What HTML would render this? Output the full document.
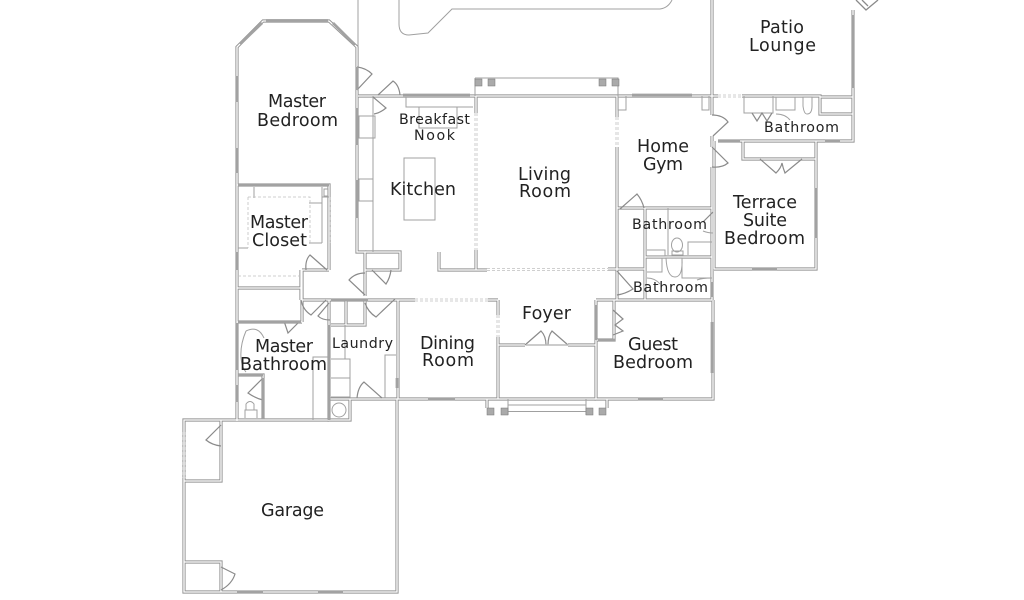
<!DOCTYPE html>
<html><head><meta charset="utf-8"><style>
html,body{margin:0;padding:0;background:#fff}
svg{display:block}
text{font-family:"DejaVu Sans","Liberation Sans",sans-serif;fill:#222;font-size:17.5px}
.s{font-size:14.2px}
</style></head><body>
<svg width="1024" height="600" viewBox="0 0 1024 600" fill="none" xmlns="http://www.w3.org/2000/svg">
<defs>
<g id="w">
<path d="M237 421V47L263 21H329L357 47V252H365V270"/>
<path d="M365 252H400V270H365"/>
<path d="M358 96H712H718M742 96H820V114H853M820 97H853"/>
<path d="M853 10V141H718"/>
<path d="M712 0V115M712 136V147M712 167V208M712 208V300"/>
<path d="M617 96V117M617 147V300"/>
<path d="M617 208H712M617 269H645"/>
<path d="M645 208V300M645 257H712M622 300H712"/>
<path d="M816 141V269H714M714 141V269"/>
<path d="M743 141V159H816"/>
<path d="M596 300V399H713V300M596 300H622M614 300V340H597"/>
<path d="M498 300V315M498 337V399M398 300V399M498 345H525M568 345H596"/>
<path d="M330 399H596"/>
<path d="M397 399V592H184V420H329M184 481H221V420M184 562H221V592"/>
<path d="M329 270V185H237M302 270V322M237 322H302M237 288H302M302 270H329"/>
<path d="M329 300V420H350V399"/>
<path d="M301 270V300M301 300H415M488 300H498"/>
<path d="M331 325H365V300"/>
<path d="M346 300V325"/>
<path d="M365 270V296"/>
<path d="M439 252V270H487M476 96V113M476 250V270"/>
<path d="M238 375H263V419"/>
<path d="M608 269H617"/>
<path d="M607 399V408M487 399V408"/>
</g>
</defs>
<use href="#w" stroke="#929292" stroke-width="3.2"/>
<use href="#w" stroke="#fff" stroke-width="1.3"/>
<g stroke="#a0a0a0" stroke-width="1">
<path d="M358 0V47M399 0V24Q399 35 409 35L428 33L452 9H660Q668 8 672 0"/>
<path d="M406 97V107H473M419 107V128H457V107"/>
<rect x="404" y="158" width="31" height="62"/>
<rect x="359" y="116" width="16" height="22"/><rect x="359" y="179" width="14" height="22"/>
<path d="M373 96V252"/>
<path d="M254 187V198M309 203H322M309 243H322M238 248H248"/>
<path d="M322 187V243M322 197H329M324 189H328V196H324Z"/>
<path d="M475 78H618V96M475 78V96"/>
<path d="M508 405H586M508 411.5H586M508 399V415M586 399V415"/>
<path d="M618 96V110H626V96M702 96V110H709V96"/>
<path d="M744 96V113H773V96M776 97V110H795V97"/>
<path d="M668 208V255M647 250H665V256H647M688 255V242H712"/>
<path d="M662 258V272H647M682 258V278H712"/>
<path d="M345 325V359M331 359H350V397H331M331 378H350"/>
<path d="M385 398V355H396"/>
<path d="M313 420V357H328"/>
<path d="M330 399V420"/>
<circle cx="339" cy="410" r="7"/>
<path d="M245 418V410H257V418M246 410V404Q250 399 254 404V410"/>
<path d="M246 331Q240 345 241 358Q242 368 246 372M246 331Q258 325 264 338"/>
<ellipse cx="677" cy="245" rx="5.5" ry="7"/><path d="M672 251H683V255H672Z"/>
<path d="M666 258H682Q683 277 675 277Q667 277 666 258Z"/>
<path d="M803 97V106Q804 114 807 114Q812 114 812 106V97Z"/>
<path d="M776 114Q785 114 790 120M697 280Q702 278 712 278M647 278Q655 278 660 284M703 231Q708 233 713 233"/>
</g>
<g stroke="#8a8a8a" stroke-width="1.2">
<path d="M357 90L372 74Q366 68 357 67"/>
<path d="M378 95L393 81Q399 85 400 95"/>
<path d="M373 97L386 108Q380 113 374 114"/>
<path d="M327 270L310 255Q305 260 306 270"/>
<path d="M365 295L349 280Q355 273 365 273"/>
<path d="M372 270L386 284Q390 278 391 270"/>
<path d="M326 300L311 315Q303 310 301 300"/>
<path d="M329 303L318 316Q322 320 330 320"/>
<path d="M395 299L376 317Q368 312 365 303"/>
<path d="M382 398L364 382Q358 387 357 398"/>
<path d="M263 378L248 393Q255 398 263 400"/>
<path d="M221 425L206 440Q212 445 221 446"/>
<path d="M221 567L235 574Q232 584 221 590"/>
<path d="M284 321L288 333L299 322"/>
<path d="M713 136L728 122Q723 115 712 115"/>
<path d="M712 147L728 163Q722 168 712 167"/>
<path d="M620 209L637 194Q642 200 644 208"/>
<path d="M713 212L703 222"/>
<path d="M617 271L633 289Q625 294 617 295"/>
<path d="M613 310L623 319L615 325L623 331L613 335"/>
<path d="M760 159L776 173Q781 168 782 163Q783 168 785 173L802 159"/>
<path d="M525 345L541 331Q546 336 546 345M568 345L552 331Q548 336 548 345"/>
<path d="M752 113L757 121L762 113L767 121L772 113"/>
</g>
<g stroke="#a2a2a2" stroke-width="2.8">
<path d="M237 76V102M237 148V173M237 252V270"/>
<path d="M240 44L262 23M266 20.5H328M333 23L355 45"/>
<path d="M357 108V145M357 180V218M357 67V90"/>
<path d="M403 95H470M632 95H692"/>
<path d="M853 15V88"/>
<path d="M816 188V238"/>
<path d="M752 269H777"/>
<path d="M638 399H663"/>
<path d="M712 322V373M712 282V297"/>
<path d="M596 305V340"/>
<path d="M598 340H615"/>
<path d="M329 325V420"/>
<path d="M237 323V370M237 385V402"/>
<path d="M238 322H301"/>
<path d="M238 375H263M263 378V419"/>
<path d="M331 300H368"/>
<path d="M238 185H329"/>
<path d="M428 399H455M237 592H263M318 592H343M397 378V388"/>
<path d="M718 141H740M825 141H840"/>
<path d="M526 345H568" stroke="#bbb" stroke-width="1.6"/>
</g>
<g stroke="#c0c0c0" stroke-width=".8" stroke-dasharray="3 2">
<path d="M475 113V250M477 113V250"/>
<path d="M415 299H488M415 301H488"/>
<path d="M497 315V337M499 315V337"/>
<path d="M487 268.5H608M487 270.5H608"/>
<path d="M183 432V478M185 432V478"/>
<path d="M616 117V147M618 117V147"/>
<path d="M718 95H742M718 97H742"/>
<path d="M248 197H310V243M248 197V248M238 276H300M330 197V243"/>
</g>
<g fill="#aaa" stroke="#777" stroke-width=".5">
<rect x="475" y="79" width="7" height="7"/><rect x="488" y="79" width="7" height="7"/>
<rect x="599" y="79" width="7" height="7"/><rect x="612" y="79" width="7" height="7"/>
<rect x="487" y="408" width="7" height="7"/><rect x="501" y="408" width="7" height="7"/>
<rect x="586" y="408" width="7" height="7"/><rect x="599" y="408" width="7" height="7"/>
</g>
<path d="M856 0L866 10L878 0M862 0L868 6" stroke="#8a8a8a" stroke-width="1.3"/>
<text x="268" y="107" textLength="58">Master</text>
<text x="257" y="126" textLength="81">Bedroom</text>
<text class="s" x="399" y="124" textLength="71">Breakfast</text>
<text class="s" x="414" y="140" textLength="41">Nook</text>
<text x="390" y="195" textLength="66">Kitchen</text>
<text x="250" y="228" textLength="58">Master</text>
<text x="252" y="246" textLength="55">Closet</text>
<text x="518" y="180" textLength="53">Living</text>
<text x="519" y="197" textLength="52">Room</text>
<text x="637" y="152" textLength="52">Home</text>
<text x="643" y="170" textLength="40">Gym</text>
<text x="760" y="33" textLength="44">Patio</text>
<text x="749" y="51" textLength="67">Lounge</text>
<text class="s" x="764" y="132" textLength="75">Bathroom</text>
<text class="s" x="632" y="229" textLength="75">Bathroom</text>
<text class="s" x="633" y="292" textLength="75">Bathroom</text>
<text x="733" y="208" textLength="64">Terrace</text>
<text x="743" y="226" textLength="44">Suite</text>
<text x="724" y="244" textLength="81">Bedroom</text>
<text x="522" y="319" textLength="49">Foyer</text>
<text x="628" y="350" textLength="50">Guest</text>
<text x="613" y="368" textLength="80">Bedroom</text>
<text x="420" y="349" textLength="55">Dining</text>
<text x="422" y="366" textLength="52">Room</text>
<text class="s" x="332" y="348" textLength="61">Laundry</text>
<text x="255" y="352" textLength="58">Master</text>
<text x="240" y="370" textLength="87">Bathroom</text>
<text x="261" y="516" textLength="63">Garage</text>
</svg>
</body></html>
